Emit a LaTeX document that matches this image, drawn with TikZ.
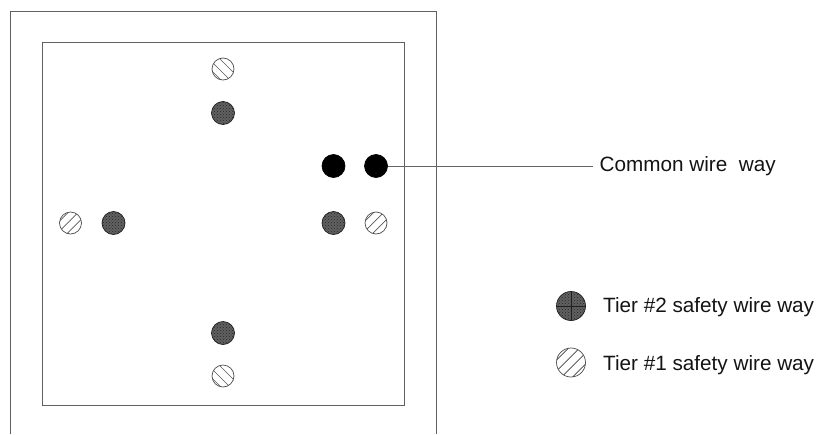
\documentclass[tikz,border=0pt]{standalone}
\usepackage{fontspec}
\usetikzlibrary{patterns}
\setmainfont{Liberation Sans}
\begin{document}
\begin{tikzpicture}[x=1pt,y=-1pt,
  frameline/.style={draw=black!62,line width=1pt},
  wire/.style={circle,inner sep=0pt,minimum size=#1,line width=0.7pt},
  solidway/.style={wire=23pt,draw=black,fill=black},
  darkway/.style={wire=#1,draw=black!88,fill=black!62,
    postaction={pattern=crosshatch dots,pattern color=black!85}},
  darkway/.default=23pt,
  hatchleft/.style={wire=22pt,draw=black!70,fill=white,
    path picture={\foreach \d in {7,-4,-13}{\draw[black!65,line width=.7pt]
      ([xshift=\d pt]path picture bounding box.center)++(-16,-16) -- ++(32,32);}}},
  hatchright/.style={wire=22pt,draw=black!70,fill=white,
    path picture={\foreach \d in {-13,-3,7}{\draw[black!65,line width=.7pt]
      ([xshift=\d pt]path picture bounding box.center)++(-16,16) -- ++(32,-32);}}},
  hatchlegend/.style={wire=29pt,draw=black!70,fill=white,
    path picture={\foreach \d in {-17,-6,5,16}{\draw[black!75,line width=.7pt]
      ([xshift=\d pt]path picture bounding box.center)++(-20,20) -- ++(40,-40);}}},
  label/.style={anchor=west,inner sep=0pt,font=\fontsize{20.7pt}{24pt}\selectfont,text=black!92}]
\useasboundingbox (0,0) rectangle (821,434);
\fill[white] (0,0) rectangle (821,434);
\draw[frameline] (10.5,434) -- (10.5,11) -- (436,11) -- (436,434);
\draw[frameline] (42,42.5) rectangle (404,405);
\node[hatchleft] (t1) at (223,69) {};
\node[darkway] (t2) at (223,113) {};
\node[hatchleft] (b1) at (223,376) {};
\node[darkway] (b2) at (223,333) {};
\node[hatchright] (l1) at (70.5,223) {};
\node[darkway] (l2) at (113.5,223) {};
\node[darkway] (r2) at (333.5,223) {};
\node[hatchright] (r1) at (376,223) {};
\node[solidway] (c1) at (333.5,166) {};
\node[solidway] (c2) at (376,166) {};
\coordinate (lineend) at (593,166);
\draw[draw=black!60,line width=.8pt] (c2) -- (lineend);
\node[label] (common) at (599.5,166.5) {Common wire\ \ way};
\node[darkway=29pt] (leg2) at (571,306) {};
\draw[black!88,line width=.7pt] (leg2.west) -- (leg2.east) (leg2.north) -- (leg2.south);
\node[hatchlegend] (leg1) at (571,362.5) {};
\node[label] (legt2) at (603,307) {Tier \#2 safety wire way};
\node[label] (legt1) at (603,365) {Tier \#1 safety wire way};
\end{tikzpicture}
\end{document}
